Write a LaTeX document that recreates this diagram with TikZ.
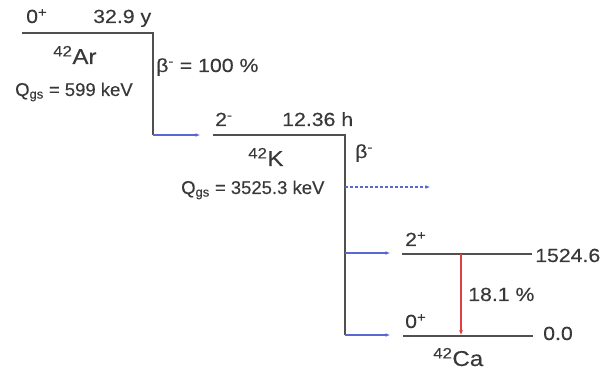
\documentclass[tikz,border=0pt]{standalone}
\usepackage{fontspec}
\setmainfont[FakeStretch=1.12, FakeBold=0.3]{Liberation Sans}
\newfontfamily\qfont[FakeBold=0.3]{Liberation Sans}
\usepackage{xcolor}
\usetikzlibrary{positioning,arrows.meta}
\definecolor{levelgray}{HTML}{505050}
\definecolor{textgray}{HTML}{383838}
\definecolor{feedblue}{HTML}{5868D0}
\definecolor{gammared}{HTML}{DC4040}

\begin{document}
\begin{tikzpicture}[x=1pt, y=-1pt,
    level/.style={draw=levelgray, line width=2.6pt, line join=miter},
    feed/.style={draw=feedblue, line width=1.1pt, -{Latex[length=4.5pt,width=4pt]}},
    gamma/.style={draw=gammared, line width=1.4pt, -{Latex[length=4.5pt,width=4pt]}},
    lbl/.style={inner sep=0pt, anchor=base west, text=textgray, font=\fontsize{19}{21}\selectfont},
    nucl/.style={lbl, font=\fontsize{21.5}{23}\selectfont},
    qval/.style={lbl, font=\qfont\fontsize{18.5}{20}\selectfont},
]
    \useasboundingbox (0,0) rectangle (611,371);

    % Level ends
    \coordinate (arL) at (22,33);
    \coordinate (arR) at (153,33);
    \coordinate (arD) at (153,135);
    \coordinate (kIn) at (200,135);
    \coordinate (kL) at (213,135);
    \coordinate (kR) at (345,135);
    \coordinate (kD) at (345,335);
    \coordinate (kMid) at (345,187);
    \coordinate (kOut) at (430,187);
    \coordinate (kHi) at (345,253);
    \coordinate (caHiIn) at (390,253);
    \coordinate (caHiL) at (402,254);
    \coordinate (caHiR) at (532,254);
    \coordinate (caLoIn) at (390,335);
    \coordinate (caLoL) at (403,336);
    \coordinate (caLoR) at (533,336);
    \coordinate (gTop) at (461,254);
    \coordinate (gBot) at (461,335);

    % Levels
    \draw[level] (arL) -- (arR) -- (arD);
    \draw[level] (kL) -- (kR) -- (kD);
    \draw[level] (caHiL) -- (caHiR);
    \draw[level] (caLoL) -- (caLoR);

    % Arrows
    \draw[feed] (arD) -- (kIn);
    \draw[feed, dash pattern=on 3pt off 2pt] (kMid) -- (kOut);
    \draw[feed] (kHi) -- (caHiIn);
    \draw[feed] (kD) -- (caLoIn);
    \draw[gamma] (gTop) -- (gBot);

    % Labels
    \node[lbl] (arSpin) at (26,23) {0\textsuperscript{+}};
    \node[lbl] (arLife) at (93,23) {32.9 y};
    \node[nucl] (arName) at (53,64) {\textsuperscript{42}Ar};
    \node[qval] (arQ) at (15,96) {Q\textsubscript{gs} = 599 keV};
    \node[lbl] (arBeta) at (156,72) {β\textsuperscript{-} = 100 \%};
    \node[lbl] (kSpin) at (215,126) {2\textsuperscript{-}};
    \node[lbl] (kLife) at (282,126) {12.36 h};
    \node[nucl] (kName) at (248,166) {\textsuperscript{42}K};
    \node[qval] (kQ) at (181,194) {Q\textsubscript{gs} = 3525.3 keV};
    \node[lbl] (kBeta) at (355,158) {β\textsuperscript{-}};
    \node[lbl] (caHiSpin) at (405,246) {2\textsuperscript{+}};
    \node[lbl] (caHiE) at (535,262) {1524.6};
    \node[lbl] (gInt) at (468,301) {18.1 \%};
    \node[lbl] (caLoSpin) at (405,328) {0\textsuperscript{+}};
    \node[lbl] (caLoE) at (543,340) {0.0};
    \node[nucl] (caName) at (433,366) {\textsuperscript{42}Ca};
\end{tikzpicture}
\end{document}
